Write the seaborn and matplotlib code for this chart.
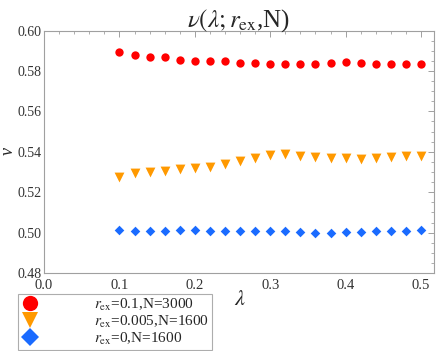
import matplotlib
matplotlib.use("Agg")
import matplotlib.pyplot as plt
from matplotlib.lines import Line2D
from matplotlib.ticker import MultipleLocator
import numpy as np
import pandas as pd
import seaborn as sns

# data
lam = [0.10, 0.12, 0.14, 0.16, 0.18, 0.20, 0.22, 0.24, 0.26, 0.28, 0.30,
       0.32, 0.34, 0.36, 0.38, 0.40, 0.42, 0.44, 0.46, 0.48, 0.50]
nu_a = [0.5894, 0.5881, 0.5871, 0.5868, 0.5854, 0.5848, 0.5849, 0.5848, 0.5841, 0.5841, 0.5834,
        0.5834, 0.5834, 0.5834, 0.5841, 0.5844, 0.5840, 0.5834, 0.5834, 0.5834, 0.5834]
nu_b = [0.5277, 0.5297, 0.5302, 0.5307, 0.5317, 0.5320, 0.5327, 0.5338, 0.5355, 0.5368, 0.5383,
        0.5387, 0.5377, 0.5372, 0.5368, 0.5368, 0.5363, 0.5367, 0.5373, 0.5377, 0.5377]
nu_c = [0.5013, 0.5007, 0.5007, 0.5008, 0.5012, 0.5012, 0.5008, 0.5007, 0.5008, 0.5008, 0.5008,
        0.5008, 0.5005, 0.4998, 0.4998, 0.5002, 0.5003, 0.5007, 0.5008, 0.5010, 0.5013]
labels = [r'$r_{\rm ex}$=0.1,N=3000', r'$r_{\rm ex}$=0.005,N=1600', r'$r_{\rm ex}$=0,N=1600']

colors = ['#ff0000', '#ff9900', '#1a6bff']
markers = ['o', 'v', 'D']
sizes = [36, 50, 24]

sns.set_style("white")
plt.rcParams['font.family'] = ['Liberation Serif', 'DejaVu Serif']
plt.rcParams['mathtext.fontset'] = 'stix'

fig = plt.figure(figsize=(4.36, 3.51), dpi=100)
ax = fig.add_axes([0.101, 0.222, 0.894, 0.691])

for nu, lab, c, m, s in zip([nu_a, nu_b, nu_c], labels, colors, markers, sizes):
    df = pd.DataFrame({'lam': lam, 'nu': nu})
    sns.scatterplot(data=df, x='lam', y='nu', color=c, marker=m, s=s,
                    linewidth=0, ax=ax, legend=False)

ax.set_xlim(0, 0.517)
ax.set_ylim(0.48, 0.60)
ax.xaxis.set_major_locator(MultipleLocator(0.1))
ax.xaxis.set_minor_locator(MultipleLocator(0.02))
ax.yaxis.set_major_locator(MultipleLocator(0.02))
ax.yaxis.set_minor_locator(MultipleLocator(0.005))
ax.xaxis.set_major_formatter(plt.FuncFormatter(lambda v, p: f'{v:.1f}'))
ax.yaxis.set_major_formatter(plt.FuncFormatter(lambda v, p: f'{v:.2f}'))
ax.tick_params(which='both', direction='in', top=True, right=True,
               color='#a0a0a0', labelcolor='#333333', labelsize=10.5, pad=1.5)
ax.tick_params(axis='y', labelsize=10)
ax.tick_params(axis='x', pad=4)
ax.tick_params(which='major', length=4, width=0.7)
ax.tick_params(which='minor', length=2, width=0.6)
for sp in ax.spines.values():
    sp.set_color('#a0a0a0')
    sp.set_linewidth(0.8)

ax.set_xlabel('')
ax.set_ylabel('')
ax.set_title(r'$\nu(\lambda;r_{\rm ex}$,N)', fontsize=18, pad=3)
fig.text(0.02, 0.57, 'ν', fontsize=13, style='italic', ha='center', va='center', rotation=90)
fig.text(0.55, 0.145, r'$\lambda$', fontsize=16, ha='center', va='center')

handles = [Line2D([], [], linestyle='none', marker=m, color=c, markersize=ms, markeredgewidth=0)
           for m, c, ms in zip(markers, colors, [11, 12, 9])]
leg = fig.legend(handles, labels, loc='lower left', bbox_to_anchor=(0.041, 0.004),
                 frameon=True, fancybox=False, fontsize=11, handletextpad=3.6,
                 labelspacing=0.05, borderpad=0.2, handlelength=1.2, borderaxespad=0)
leg.get_frame().set_edgecolor('#999999')
leg.get_frame().set_linewidth(0.8)

fig.savefig('out.png', dpi=100)
